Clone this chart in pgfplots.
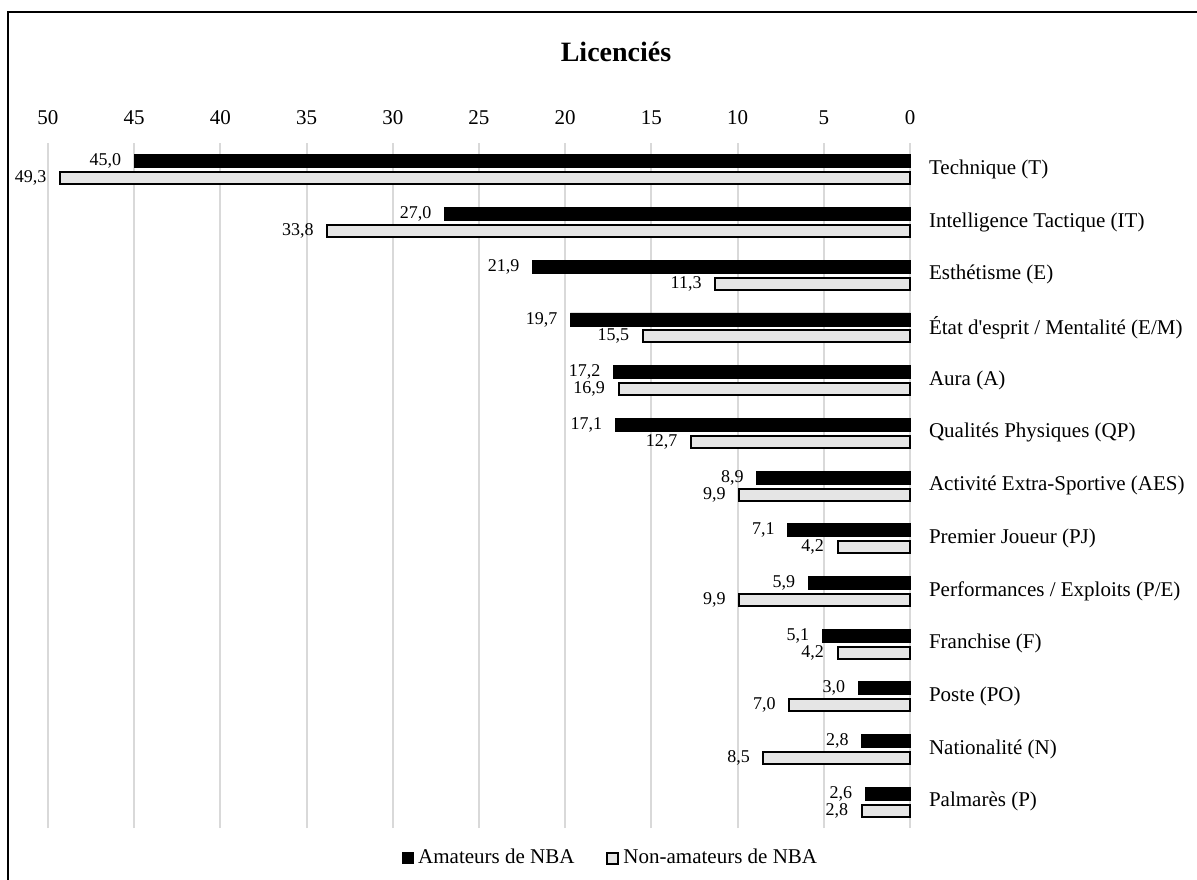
\documentclass[border=0pt]{standalone}
\usepackage{pgfplots}
\pgfplotsset{compat=1.18}
\usepackage{fontspec}
\setmainfont{Liberation Serif}

\begin{document}
\begin{tikzpicture}
\path[use as bounding box] (0,0) rectangle (598.5pt,-439.5pt);
\draw[line width=1pt] (4pt,-440pt) -- (4pt,-6pt) -- (599pt,-6pt);
\node[font=\bfseries\fontsize{14}{16}\selectfont] at (308pt,-26pt) {Licenciés};
\begin{axis}[
  at={(24pt,-414pt)}, anchor=south west,
  scale only axis, width=431pt, height=342.5pt,
  xmin=0, xmax=50, x dir=reverse,
  ymin=-0.5, ymax=12.5,
  xbar, clip=false,
  xtick={0,5,...,50}, xticklabel pos=right,
  ytick={0,...,12}, yticklabel pos=right,
  yticklabels={{Palmarès (P)},{Nationalité (N)},{Poste (PO)},{Franchise (F)},
    {Performances / Exploits (P/E)},{Premier Joueur (PJ)},{Activité Extra-Sportive (AES)},
    {Qualités Physiques (QP)},{Aura (A)},{État d\textquotesingle esprit / Mentalité (E/M)},
    {Esthétisme (E)},{Intelligence Tactique (IT)},{Technique (T)}},
  xmajorgrids, major grid style={black!15, line width=1pt},
  axis line style={draw=none},
  major tick length=0pt,
  tick label style={font=\fontsize{10.5}{12}\selectfont},
  yticklabel style={anchor=west, xshift=6pt},
  xticklabel style={yshift=5.5pt},
  /pgf/number format/assume math mode=true,
  point meta=x,
  nodes near coords={\pgfmathprintnumber[fixed,fixed zerofill,precision=1,use comma]{\pgfplotspointmeta}},
  every node near coord/.append style={font=\fontsize{9}{10}\selectfont, anchor=east, xshift=-3pt, black},
  legend columns=2,
  legend style={draw=none, fill=none, at={(axis description cs:0.654,-0.044)}, anchor=center,
    font=\fontsize{10.5}{12}\selectfont,
    /tikz/every even column/.append style={column sep=14pt}},
  legend image code/.code={\draw[#1] (0pt,-2.75pt) rectangle (5.5pt,2.75pt);},
]
\addplot[fill=black, draw=black, bar width=6.5pt, bar shift=4pt] coordinates {
  (45.0,12) (27.0,11) (21.9,10) (19.7,9) (17.2,8) (17.1,7) (8.9,6)
  (7.1,5) (5.9,4) (5.1,3) (3.0,2) (2.8,1) (2.6,0)};
\addplot[fill=black!10, draw=black, line width=1pt, bar width=6pt, bar shift=-4.5pt] coordinates {
  (49.3,12) (33.8,11) (11.3,10) (15.5,9) (16.9,8) (12.7,7) (9.9,6)
  (4.2,5) (9.9,4) (4.2,3) (7.0,2) (8.5,1) (2.8,0)};
\legend{Amateurs de NBA, Non-amateurs de NBA}
\end{axis}
\end{tikzpicture}
\end{document}
